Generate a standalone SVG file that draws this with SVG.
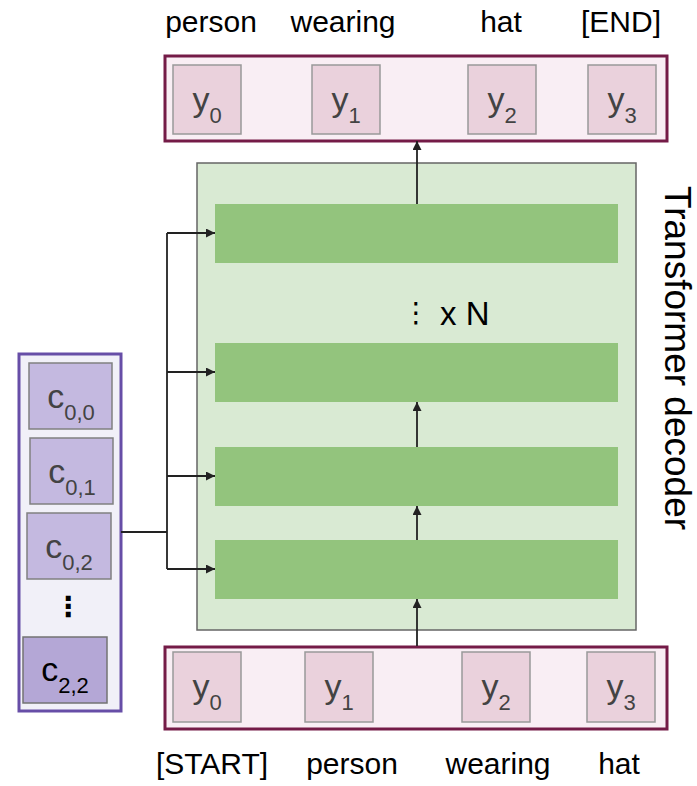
<svg xmlns="http://www.w3.org/2000/svg" width="697" height="786" viewBox="0 0 697 786">
<style>
.lbl{font-family:"Liberation Sans",Arial,sans-serif;font-size:30px;fill:#000;text-anchor:middle}
.tok{font-family:"Liberation Sans",Arial,sans-serif;font-size:34px;fill:#434343;text-anchor:middle}
.sub{font-size:22px}
.outer{fill:#f9eef4;stroke:#741b47;stroke-width:3}
.ybox{fill:#ead1dc;stroke:#999;stroke-width:1.5}
.cbox{fill:#c4b9e0;stroke:#808080;stroke-width:1.5}
.bar{fill:#93c47d}
.ln{stroke:#222;stroke-width:1.8;fill:none}
</style>
<defs>
<marker id="ah" viewBox="0 0 10 10" refX="10" refY="5" markerWidth="13" markerHeight="9" markerUnits="userSpaceOnUse" orient="auto">
<path d="M0,0 L10,5 L0,10 z" fill="#222"/>
</marker>
</defs>

<g id="decoder">
<rect x="197" y="163" width="439" height="467" fill="#d9ead3" stroke="#666" stroke-width="1.5"/>
<rect class="bar" x="215" y="204" width="403" height="59"/>
<rect class="bar" x="215" y="343" width="403" height="59"/>
<rect class="bar" x="215" y="447" width="403" height="59"/>
<rect class="bar" x="215" y="540" width="403" height="59"/>
<text x="416" y="322" font-family="DejaVu Sans,sans-serif" font-size="28" text-anchor="middle">⋮</text>
<text x="440" y="325" font-family="Liberation Sans,Arial,sans-serif" font-size="33">x N</text>
<text transform="translate(665,358) rotate(90)" font-family="Liberation Sans,Arial,sans-serif" font-size="37" text-anchor="middle">Transformer decoder</text>
</g>

<g id="output">
<rect class="outer" x="165" y="56" width="502" height="85"/>
<rect class="ybox" x="173" y="65" width="68" height="69"/>
<rect class="ybox" x="312" y="65" width="68" height="69"/>
<rect class="ybox" x="468" y="65" width="68" height="69"/>
<rect class="ybox" x="588" y="65" width="68" height="69"/>
<text class="tok" x="207" y="111">y<tspan class="sub" dy="12">0</tspan></text>
<text class="tok" x="346" y="111">y<tspan class="sub" dy="12">1</tspan></text>
<text class="tok" x="502" y="111">y<tspan class="sub" dy="12">2</tspan></text>
<text class="tok" x="622" y="111">y<tspan class="sub" dy="12">3</tspan></text>
<text class="lbl" x="211" y="32">person</text>
<text class="lbl" x="343" y="32">wearing</text>
<text class="lbl" x="501" y="32">hat</text>
<text class="lbl" x="621" y="32">[END]</text>
</g>

<g id="input">
<rect class="outer" x="165" y="647" width="502" height="82"/>
<rect class="ybox" x="173" y="652" width="68" height="70"/>
<rect class="ybox" x="305" y="652" width="68" height="70"/>
<rect class="ybox" x="462" y="652" width="68" height="70"/>
<rect class="ybox" x="587" y="652" width="68" height="70"/>
<text class="tok" x="207" y="698">y<tspan class="sub" dy="12">0</tspan></text>
<text class="tok" x="339" y="698">y<tspan class="sub" dy="12">1</tspan></text>
<text class="tok" x="496" y="698">y<tspan class="sub" dy="12">2</tspan></text>
<text class="tok" x="621" y="698">y<tspan class="sub" dy="12">3</tspan></text>
<text class="lbl" x="212" y="774">[START]</text>
<text class="lbl" x="352" y="774">person</text>
<text class="lbl" x="498" y="774">wearing</text>
<text class="lbl" x="619" y="774">hat</text>
</g>

<g id="encoder">
<rect x="19" y="354" width="102" height="357" fill="#f1f0f8" stroke="#674ea7" stroke-width="3"/>
<rect class="cbox" x="29" y="363" width="83" height="66"/>
<rect class="cbox" x="30" y="438" width="83" height="66"/>
<rect class="cbox" x="27" y="513" width="84" height="66"/>
<rect x="23" y="637" width="84" height="66" fill="#b4a7d6" stroke="#737373" stroke-width="1.5"/>
<text class="tok" x="71" y="408">c<tspan class="sub" dy="12">0,0</tspan></text>
<text class="tok" x="72" y="483">c<tspan class="sub" dy="12">0,1</tspan></text>
<text class="tok" x="69" y="558">c<tspan class="sub" dy="12">0,2</tspan></text>
<text class="tok" x="65" y="681" style="fill:#000">c<tspan class="sub" dy="12">2,2</tspan></text>
<text x="68" y="616" font-family="DejaVu Sans,sans-serif" font-size="28" font-weight="bold" text-anchor="middle">⋮</text>
</g>

<g id="connectors">
<path class="ln" d="M121,532 H167" stroke-width="2.4"/>
<path class="ln" d="M167,233 V569"/>
<path class="ln" d="M167,233 H215" marker-end="url(#ah)"/>
<path class="ln" d="M167,372 H215" marker-end="url(#ah)"/>
<path class="ln" d="M167,476 H215" marker-end="url(#ah)"/>
<path class="ln" d="M167,569 H215" marker-end="url(#ah)"/>
<path class="ln" d="M417,646 V599" marker-end="url(#ah)"/>
<path class="ln" d="M417,540 V506" marker-end="url(#ah)"/>
<path class="ln" d="M417,447 V402" marker-end="url(#ah)"/>
<path class="ln" d="M417,204 V141" marker-end="url(#ah)"/>
</g>
</svg>
